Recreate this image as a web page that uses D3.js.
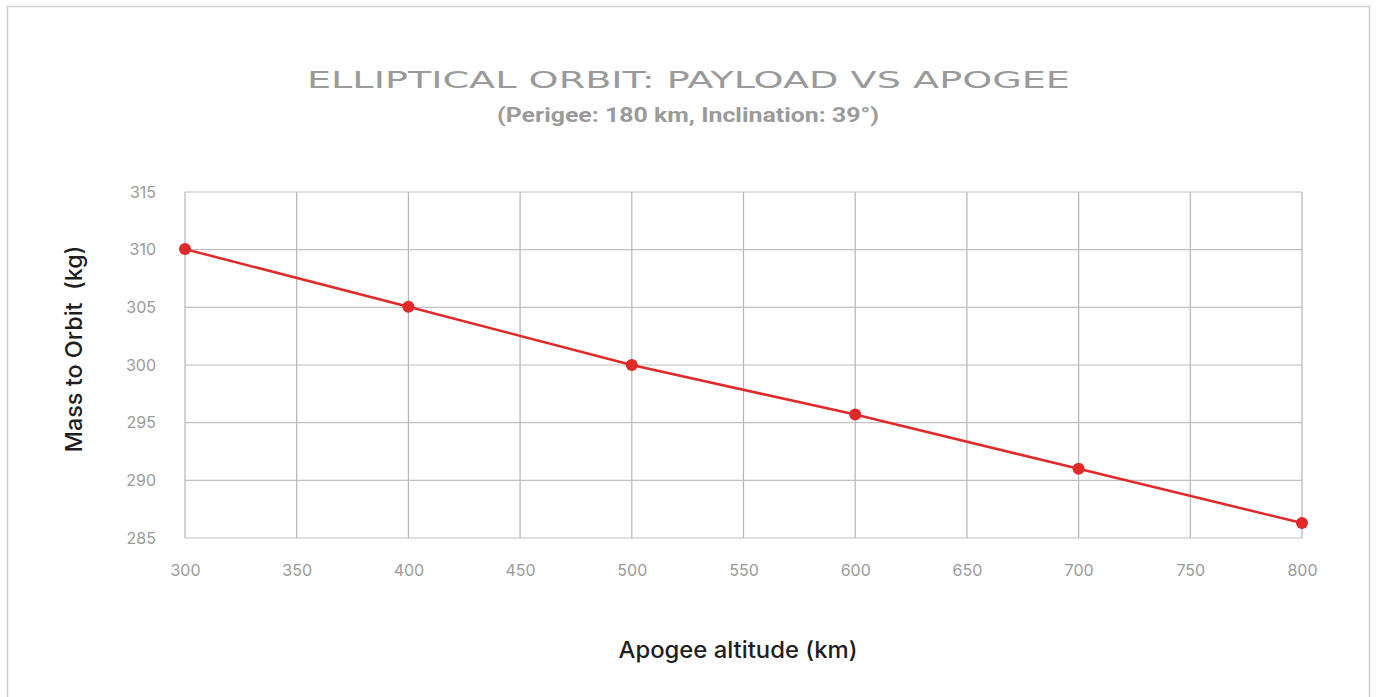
<!DOCTYPE html>
<html>
<head>
<meta charset="utf-8">
<script src="https://cdn.jsdelivr.net/npm/d3@7"></script>
<style>
  html, body { margin: 0; padding: 0; background: #fff; }
  svg { display: block; }
</style>
</head>
<body>
<div id="chart"></div>
<script>
// chart data
const apogeeKm = [300, 400, 500, 600, 700, 800];
const massKg = [310.05, 305.05, 300.0, 295.7, 291.0, 286.3];
const xTicks = [300, 350, 400, 450, 500, 550, 600, 650, 700, 750, 800];
const yTicks = [285, 290, 295, 300, 305, 310, 315];

const titleText = "ELLIPTICAL ORBIT: PAYLOAD VS APOGEE";
const subtitleText = "(Perigee: 180 km, Inclination: 39°)";
const xLabel = "Apogee altitude (km)";
const yLabel = "Mass to Orbit  (kg)";

const width = 1376, height = 697;
const margin = { top: 192, right: 74, bottom: 159, left: 185 };
const innerW = width - margin.left - margin.right;
const innerH = height - margin.top - margin.bottom;

const svg = d3.select("#chart").append("svg")
    .attr("width", width)
    .attr("height", height);

// outer frame
svg.append("rect")
    .attr("x", 7.5).attr("y", 6.5)
    .attr("width", 1362).attr("height", 720)
    .attr("fill", "none")
    .attr("stroke", "#cfcfcf")
    .attr("stroke-width", 1.5);

// titles
svg.append("text")
    .attr("x", 688.5).attr("y", 88)
    .attr("text-anchor", "middle")
    .attr("font-family", "DejaVu Sans")
    .attr("font-size", 23)
    .attr("fill", "#9a9a9a")
    .attr("textLength", 763)
    .attr("lengthAdjust", "spacingAndGlyphs")
    .text(titleText);

svg.append("text")
    .attr("x", 688).attr("y", 122)
    .attr("text-anchor", "middle")
    .attr("font-family", "Roboto")
    .attr("font-weight", "bold")
    .attr("font-size", 21)
    .attr("fill", "#9a9a9a")
    .attr("textLength", 382)
    .attr("lengthAdjust", "spacingAndGlyphs")
    .text(subtitleText);

const g = svg.append("g")
    .attr("transform", `translate(${margin.left},${margin.top})`);

const x = d3.scaleLinear().domain([300, 800]).range([0, innerW]);
const y = d3.scaleLinear().domain([285, 315]).range([innerH, 0]);

// grid
g.append("g")
    .selectAll("line.vgrid")
    .data(xTicks)
    .join("line")
    .attr("x1", d => x(d)).attr("x2", d => x(d))
    .attr("y1", 0).attr("y2", innerH)
    .attr("stroke", "#b4b4b4").attr("stroke-width", 1.2);

g.append("g")
    .selectAll("line.hgrid")
    .data(yTicks)
    .join("line")
    .attr("x1", 0).attr("x2", innerW)
    .attr("y1", d => y(d)).attr("y2", d => y(d))
    .attr("stroke", "#c0c0c0").attr("stroke-width", 1.2);

// axes (labels only)
const xAxis = g.append("g")
    .attr("transform", `translate(0,${innerH})`)
    .call(d3.axisBottom(x).tickValues(xTicks).tickSize(0).tickPadding(27));
const yAxis = g.append("g")
    .call(d3.axisLeft(y).tickValues(yTicks).tickSize(0).tickPadding(29));

[xAxis, yAxis].forEach(a => {
    a.select(".domain").remove();
    a.selectAll("text")
        .attr("font-family", "Inter")
        .attr("font-size", 16)
        .attr("fill", "#9a9a9a");
});

// series line
const line = d3.line()
    .x((d, i) => x(apogeeKm[i]))
    .y(d => y(d));

g.append("path")
    .datum(massKg)
    .attr("d", line)
    .attr("fill", "none")
    .attr("stroke", "#e02a2a")
    .attr("stroke-width", 2.5);

g.selectAll("circle")
    .data(massKg)
    .join("circle")
    .attr("cx", (d, i) => x(apogeeKm[i]))
    .attr("cy", d => y(d))
    .attr("r", 6)
    .attr("fill", "#e02a2a");

// axis titles
svg.append("text")
    .attr("x", 738).attr("y", 658)
    .attr("text-anchor", "middle")
    .attr("font-family", "Inter")
    .attr("font-weight", 500)
    .attr("font-size", 23)
    .attr("fill", "#1e1e1e")
    .attr("textLength", 239)
    .attr("lengthAdjust", "spacingAndGlyphs")
    .text(xLabel);

svg.append("text")
    .attr("transform", `translate(82,${margin.top + innerH / 2 - 16}) rotate(-90)`)
    .attr("text-anchor", "middle")
    .attr("font-family", "Inter")
    .attr("font-weight", 500)
    .attr("font-size", 23)
    .attr("fill", "#1e1e1e")
    .style("white-space", "pre")
    .attr("textLength", 207)
    .attr("lengthAdjust", "spacingAndGlyphs")
    .text(yLabel);
</script>
</body>
</html>
